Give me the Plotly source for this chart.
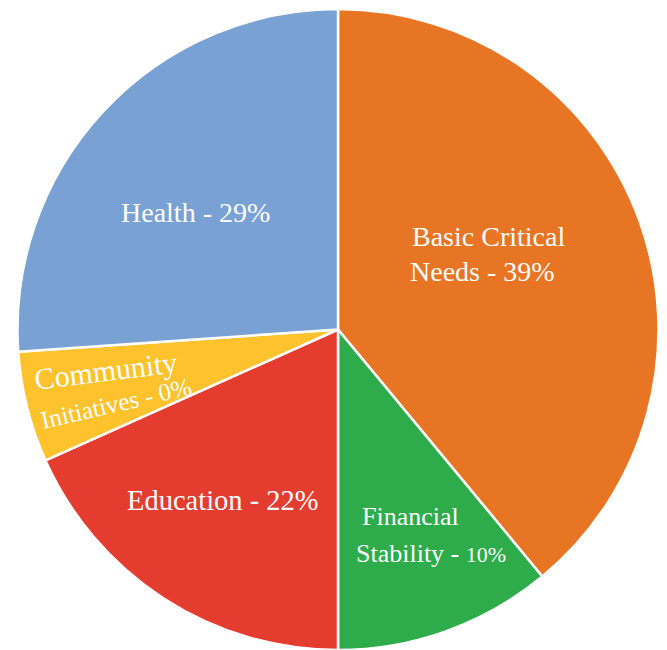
import plotly.graph_objects as go

categories = ["Basic Critical Needs", "Financial Stability", "Education", "Community Initiatives", "Health"]
values = [39.0, 11.0, 18.3, 5.6, 26.1]
colors = ["#E87524", "#2EAB4B", "#E53C30", "#FDC22C", "#79A1D3"]

W, H = 659, 642  # page body has an 8px default margin

fig = go.Figure(go.Pie(
    labels=categories, values=values, sort=False, direction="clockwise", rotation=0,
    marker=dict(colors=colors, line=dict(color="white", width=2.5)),
    textinfo="none", hoverinfo="label+percent", showlegend=False,
))

F = "Liberation Serif"
def ann(x, y, text, size, angle=0, xanchor="center"):
    fig.add_annotation(x=(x - 8) / W, y=1 - (y - 8) / H, xref="paper", yref="paper", text=text,
                       showarrow=False, font=dict(family=F, size=size, color="white"),
                       textangle=angle, xanchor=xanchor, yanchor="middle")

ann(192, 212, "Health - 29%", 28)
ann(491, 236, "Basic Critical", 28)
ann(485, 271, "Needs - 39%", 28)
ann(220, 500, "Education - 22%", 28.5)
ann(360, 516, "Financial", 26, xanchor="left")
ann(354, 553, "Stability - <span style='font-size:22px'>10%</span>", 26, xanchor="left")
ann(100, 370, "Community", 30, angle=-7)
ann(110, 403, "Initiatives - 0%", 25, angle=-13)

fig.update_layout(width=W, height=H, margin=dict(l=8, r=7, t=1, b=0),
                  paper_bgcolor="white", plot_bgcolor="white")
fig.write_html("out.html")
